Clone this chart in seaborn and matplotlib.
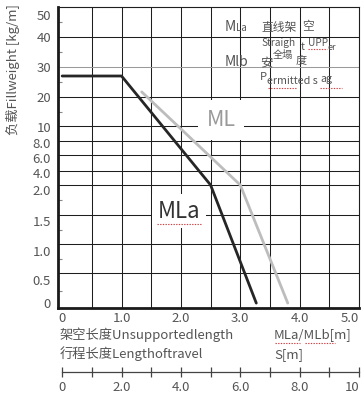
import numpy as np
import pandas as pd
import matplotlib
matplotlib.use("Agg")
import matplotlib.pyplot as plt
import matplotlib.transforms as mtransforms
import seaborn as sns
from matplotlib.lines import Line2D

# ---------------- data ----------------
mla_length = [0.0, 1.0, 2.5, 3.27]
mla_load = [27.0, 27.0, 2.0, 0.07]
ml_length = [1.34, 3.0, 3.8]
ml_load = [21.7, 2.0, 0.07]

y_tick_values = [0, 0.5, 1.0, 1.5, 2.0, 4.0, 6.0, 8.0, 10, 20, 30, 40, 50]
y_tick_labels = ["0", "0.5", "1.0", "1.5", "2.0", "4.0", "6.0", "8.0", "10", "20", "30", "40", "50"]
y_minor_values = [0.25, 0.75, 1.25, 1.75, 15, 25, 35, 45]
x_tick_values = [0, 1, 2, 3, 4, 5]
x_tick_labels = ["0", "1.0", "2.0", "3.0", "4.0", "5.0"]
x_grid_values = [0.5, 1.0, 1.5, 2.0, 2.5, 3.0, 3.5, 4.0, 4.5]
s_tick_values = list(range(0, 11))
s_tick_labels = ["0", "", "2.0", "", "4.0", "", "6.0", "", "8.0", "", "10"]

# visual spacing of the (non-uniform) load axis
y_scale_knots = [0, 35, 64, 93, 123, 137, 153, 167, 182, 211, 241, 271, 301]
# small vertical shifts (px, + = down) of the y tick labels as printed
y_label_shift = [-5, 7, 7, 6, 5, 2, 3, 2, 1, 0, 0, 0, 8]

df = pd.DataFrame({
    "length": mla_length + ml_length,
    "load": mla_load + ml_load,
    "series": ["MLa"] * len(mla_length) + ["ML"] * len(ml_length),
})

# ---------------- style ----------------
sns.set_theme(style="white")
plt.rcParams["font.family"] = ["Noto Sans CJK SC", "DejaVu Sans"]
TXT = "#555555"
GRID = "#1e1e1e"

fig = plt.figure(figsize=(3.64, 3.94), dpi=100)
W, H = 364, 394
L, R, B, T = 58, 359, 308, 7
ax = fig.add_axes([L / W, 1 - B / H, (R - L) / W, (B - T) / H])


def fwd(y):
    return np.interp(y, y_tick_values, y_scale_knots)


def inv(p):
    return np.interp(p, y_scale_knots, y_tick_values)


ax.set_yscale("function", functions=(fwd, inv))

sns.lineplot(data=df, x="length", y="load", hue="series",
             palette={"MLa": "#262626", "ML": "#bdbdbd"},
             hue_order=["ML", "MLa"], estimator=None, sort=False,
             linewidth=2.0, legend=False, ax=ax, zorder=5)

ax.set_xlim(-0.07, 5.0)
ax.set_ylim(0, 50)

# grid lines
for xv in x_grid_values:
    ax.axvline(xv, color=GRID, lw=0.75, zorder=1)
for yv in y_tick_values[1:-1]:
    ax.axhline(yv, color="#9a9a9a" if yv == 30 else GRID, lw=0.75, zorder=1)

ax.set_xticks(x_tick_values)
ax.set_xticklabels(x_tick_labels)
ax.set_yticks(y_tick_values)
ax.set_yticklabels(y_tick_labels)
ax.set_yticks(y_minor_values, minor=True)
ax.tick_params(axis="x", which="major", length=0, pad=3, labelsize=9.5, labelcolor=TXT)
ax.tick_params(axis="y", which="major", length=0, pad=5, labelsize=9.5, labelcolor=TXT)
ax.tick_params(axis="y", which="minor", left=True, direction="in", length=3, width=0.8, color="#888888")
lbls = ax.get_xticklabels()
lbls[-1].set_horizontalalignment("right")
for lab, dy in zip(ax.get_yticklabels(), y_label_shift):
    off = mtransforms.ScaledTranslation(0, -dy / 100, fig.dpi_scale_trans)
    lab.set_transform(lab.get_transform() + off)
ax.set_xlabel("")
ax.set_ylabel("")

for s in ["left", "bottom"]:
    ax.spines[s].set_color("#1a1a1a")
    ax.spines[s].set_linewidth(2.0)
for s in ["top", "right"]:
    ax.spines[s].set_color(GRID)
    ax.spines[s].set_linewidth(0.8)
    ax.spines[s].set_visible(True)

# ---------------- annotations in the plot ----------------
def fx(px):
    return (px - L) / (R - L)


def fy(py):
    return (B - py) / (B - T)


tr = ax.transAxes
ax.text(fx(221), fy(120), "ML", transform=tr, fontsize=15.5, color="#9a9a9a",
        ha="center", va="center", zorder=4,
        bbox=dict(boxstyle="square,pad=0.4", facecolor="white", edgecolor="none"))
ax.text(fx(179), fy(211), "MLa", transform=tr, fontsize=16, color="#333333",
        ha="center", va="center", zorder=4,
        bbox=dict(boxstyle="square,pad=0.25", facecolor="white", edgecolor="none"))

kw = dict(transform=tr, color=TXT, ha="left", va="center", zorder=6)
ax.text(fx(225), fy(27), "M", fontsize=10, **kw)
ax.text(fx(236), fy(28), "La", fontsize=7, **kw)
ax.text(fx(261), fy(27), "直线架", fontsize=8.5, **kw)
ax.text(fx(302), fy(27), "空", fontsize=8.5, **kw)
ax.text(fx(261), fy(43), "Straigh", fontsize=7.3, **kw)
ax.text(fx(301), fy(47), "t", fontsize=7.3, **kw)
ax.text(fx(308), fy(43), "UPP", fontsize=7.3, **kw)
ax.text(fx(328), fy(47), "er", fontsize=6.5, **kw)
ax.text(fx(225), fy(62), "Mlb", fontsize=10, **kw)
ax.text(fx(260), fy(64), "安", fontsize=9, **kw)
ax.text(fx(273), fy(55), "全塌", fontsize=7.3, **kw)
ax.text(fx(296), fy(61), "度", fontsize=8, **kw)
ax.text(fx(260), fy(77), "P", fontsize=8, **kw)
ax.text(fx(267), fy(81), "ermitted s", fontsize=7.7, **kw)
ax.text(fx(320), fy(79), "ag", fontsize=7.7, **kw)

# ---------------- labels outside ----------------
fig.text(13 / W, 1 - 70 / H, "负载Fillweight [kg/m]", rotation=90, fontsize=9.5,
         color=TXT, ha="center", va="center")
fig.text(60 / W, 1 - 335 / H, "架空长度Unsupportedlength", fontsize=9.5, color=TXT, ha="left", va="center")
fig.text(60 / W, 1 - 354 / H, "行程长度Lengthoftravel", fontsize=9.5, color=TXT, ha="left", va="center")
fig.text(274 / W, 1 - 335 / H, "MLa/MLb[m]", fontsize=9.5, color=TXT, ha="left", va="center")
fig.text(274 / W, 1 - 355 / H, "S[m]", fontsize=9.5, color=TXT, ha="left", va="center")

# spell-check underlines
def squiggle(x0, x1, py):
    fig.add_artist(Line2D([x0 / W, x1 / W], [1 - py / H, 1 - py / H],
                          color="#d04040", lw=0.8, ls=(0, (1.2, 1.2))))


squiggle(157, 201, 224)
squiggle(308, 327, 49)
squiggle(268, 297, 88)
squiggle(320, 342, 88)
squiggle(275, 300, 343)
squiggle(305, 335, 343)

# ---------------- travel-length axis ----------------
ax2 = fig.add_axes([L / W, 1 - 372 / H, (R - L) / W, 0.0001])
ax2.set_xlim(-0.14, 10.0)
ax2.set_yticks([])
for s in ["left", "right", "top"]:
    ax2.spines[s].set_visible(False)
ax2.spines["bottom"].set_color("#444444")
ax2.spines["bottom"].set_linewidth(0.9)
ax2.spines["bottom"].set_bounds(0, 10)
ax2.set_xticks(s_tick_values)
ax2.set_xticklabels(s_tick_labels)
ax2.tick_params(axis="x", direction="inout", length=7, width=0.9, color="#444444",
                pad=3, labelsize=9.5, labelcolor=TXT, bottom=True)
ax2.get_xticklabels()[-1].set_horizontalalignment("right")
ax2.patch.set_visible(False)

fig.savefig("out.png", dpi=100)
